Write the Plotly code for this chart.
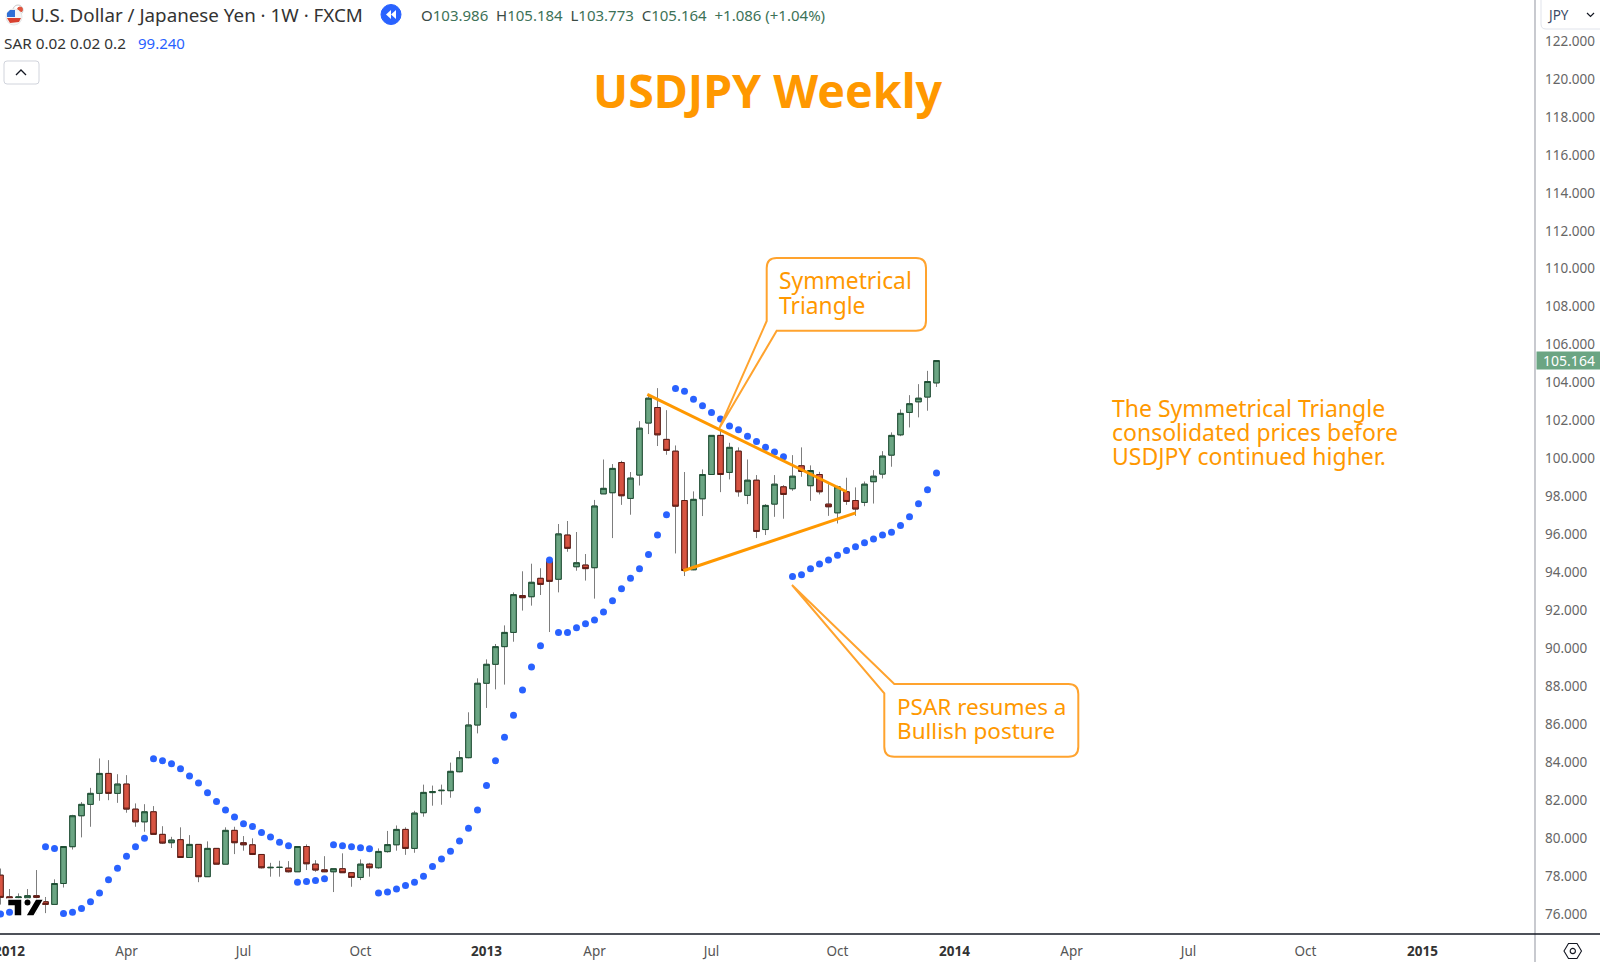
import plotly.graph_objects as go

# ---------- data (prices) ----------
WEEK = list(range(105))
OPEN = [78.05,76.91,76.86,76.86,76.97,76.65,76.51,77.61,79.55,81.18,81.78,82.36,83.41,82.36,82.85,81.53,80.86,81.39,80.20,79.76,
        79.92,78.98,79.67,77.97,79.46,78.63,80.41,79.76,79.65,79.14,78.44,78.46,78.42,78.23,79.56,78.63,78.33,78.23,78.39,78.18,
        77.93,78.63,78.44,79.29,79.65,80.46,79.46,81.34,82.40,82.50,82.50,83.50,84.24,85.96,88.16,89.16,90.09,90.84,92.78,92.72,
        93.69,94.60,93.64,95.97,94.30,94.39,94.25,98.14,98.20,99.79,97.90,99.13,101.87,102.69,101.01,100.39,97.79,94.14,97.88,99.16,
        101.22,99.27,100.39,98.06,98.86,96.26,97.60,98.51,98.41,99.62,98.57,99.16,97.60,97.14,98.25,97.79,97.69,98.78,99.18,100.18,
        101.25,102.43,102.99,103.24,103.986]
HIGH = [78.40,77.32,77.09,77.32,78.32,76.90,77.83,79.58,81.23,81.90,82.65,84.20,84.11,83.37,83.32,81.83,81.79,81.69,80.63,80.07,
        80.57,80.16,79.69,79.83,79.46,80.57,80.60,80.11,79.99,79.14,78.70,78.81,78.79,79.58,79.67,78.84,79.05,78.40,79.20,78.21,
        78.88,78.70,79.46,80.38,80.67,80.57,81.44,82.82,82.77,82.82,83.98,84.59,86.63,88.42,89.42,90.23,91.21,92.95,94.06,94.46,
        94.22,94.74,96.55,96.71,96.13,94.97,97.82,99.95,99.71,99.88,99.29,101.97,103.34,103.71,102.55,100.69,99.29,98.27,99.43,101.24,
        101.50,100.83,100.59,99.95,99.13,97.60,99.13,98.60,100.18,100.59,99.64,99.30,98.65,98.57,98.99,98.48,98.79,99.39,100.39,101.38,
        102.59,103.34,103.92,104.62,105.184]
LOW = [76.50,76.70,76.70,76.70,76.05,76.05,76.50,77.40,79.40,80.04,80.60,81.97,82.00,81.86,81.34,80.60,80.34,80.20,79.69,79.48,
       78.98,78.98,77.68,77.97,78.63,78.63,79.16,79.34,79.11,78.40,77.97,77.97,78.19,78.23,78.32,78.23,78.21,77.16,78.18,77.44,
       77.79,77.97,78.39,79.24,79.34,79.12,79.23,81.13,81.71,81.76,82.13,83.47,84.21,85.52,86.86,87.84,88.09,90.35,91.99,92.25,
       92.81,90.86,92.95,95.09,94.09,93.57,92.62,98.13,95.81,97.56,97.04,98.58,101.29,100.66,100.20,95.00,93.81,94.12,96.97,99.14,
       98.23,98.90,97.99,97.60,95.81,95.97,96.93,96.83,98.30,99.04,97.77,98.11,96.98,96.58,97.56,96.98,97.49,97.63,98.95,99.57,
       101.18,101.64,102.17,102.52,103.773]
CLOSE = [76.88,76.84,76.90,76.97,76.88,76.51,77.61,79.56,81.18,81.78,82.36,83.41,82.36,82.85,81.53,80.86,81.39,80.20,79.74,79.90,
         78.98,79.67,77.97,79.46,78.63,80.41,79.76,79.65,79.14,78.44,78.46,78.46,78.23,79.56,78.65,78.32,78.23,78.39,78.18,77.93,
         78.63,78.44,79.30,79.66,80.46,79.46,81.32,82.41,82.45,82.52,83.52,84.24,85.96,88.16,89.16,90.09,90.84,92.83,92.67,93.48,
         93.37,93.53,96.03,95.27,94.51,94.20,97.50,98.43,99.48,98.04,98.97,101.60,103.18,101.25,100.43,97.49,94.10,97.85,99.16,101.22,
         99.16,100.59,98.25,98.86,96.16,97.53,98.65,98.11,99.07,99.32,99.37,98.25,97.46,98.51,97.74,97.34,98.65,99.07,100.13,101.22,
         102.38,102.89,103.18,104.06,105.164]
SAR = [76.00,76.10,None,None,None,79.55,79.46,76.03,76.10,76.30,76.65,77.11,77.81,78.42,79.05,79.55,80.00,84.18,84.08,83.92,
       83.66,83.27,82.90,82.39,81.93,81.48,81.11,80.76,80.62,80.30,80.06,79.79,79.60,77.67,77.72,77.77,77.86,79.65,79.60,79.55,
       79.49,79.44,77.11,77.16,77.32,77.51,77.67,77.99,78.50,78.90,79.31,79.85,80.52,81.48,82.77,84.08,85.31,86.47,87.81,89.02,
       90.14,94.66,90.84,90.84,91.09,91.30,91.49,91.91,92.51,93.14,93.69,94.19,94.95,95.97,97.04,103.69,103.55,103.13,102.78,102.43,
       102.08,101.71,101.52,101.18,100.90,100.60,100.34,100.09,93.79,93.88,94.19,94.44,94.65,94.91,95.16,95.35,95.56,95.76,95.97,96.12,
       96.47,96.93,97.62,98.35,99.24]
TRI_UPPER_X = [71.87, 94.02]
TRI_UPPER_Y = [103.38, 98.25]
TRI_LOWER_X = [75.87, 95.02]
TRI_LOWER_Y = [94.09, 97.14]
Y_TICKS = list(range(76, 124, 2))
X_TICK_WEEKS = [1, 14, 27, 40, 54, 66, 79, 93, 106, 119, 132, 145, 158]
X_TICK_LABELS = ["2012", "Apr", "Jul", "Oct", "2013", "Apr", "Jul", "Oct", "2014", "Apr", "Jul", "Oct", "2015"]
LAST_PRICE = 105.164

# ---------- page geometry ----------
W, H = 1600, 962
PLOT_R, PLOT_B = 1535, 934
ORANGE = "#ff9800"
UP, DOWN = "#6ba583", "#d75442"
UP_EDGE, DOWN_EDGE = "#1d4f33", "#5b1a13"
FONT = "Noto Sans"

def px(x): return x / PLOT_R
def py(y): return 1 - y / PLOT_B
def pth(s):
    out = []
    toks = s.split()
    i = 0
    while i < len(toks):
        t = toks[i]
        if t in ("M", "L", "Q"):
            out.append(t); i += 1
            n = 2 if t == "Q" else 1
            pairs = []
            for _ in range(n):
                pairs.append(f"{px(float(toks[i])):.5f},{py(float(toks[i+1])):.5f}")
                i += 2
            out.append(" ".join(pairs))
        else:
            out.append(t); i += 1
    return " ".join(out)

fig = go.Figure()
fig.add_scatter(x=WEEK, y=SAR, mode="markers", name="SAR",
                marker=dict(color="#2962ff", size=7, line=dict(width=0)))
# wicks
fig.add_candlestick(x=WEEK, open=OPEN, high=HIGH, low=LOW, close=CLOSE, name="wick",
                    increasing=dict(line=dict(color="#7d7d7d", width=1), fillcolor="#7d7d7d"),
                    decreasing=dict(line=dict(color="#7d7d7d", width=1), fillcolor="#7d7d7d"),
                    whiskerwidth=0)
# bodies
fig.add_candlestick(x=WEEK, open=OPEN, close=CLOSE,
                    high=[max(o, c) for o, c in zip(OPEN, CLOSE)],
                    low=[min(o, c) for o, c in zip(OPEN, CLOSE)],
                    name="USDJPY",
                    increasing=dict(line=dict(color=UP_EDGE, width=1), fillcolor=UP),
                    decreasing=dict(line=dict(color=DOWN_EDGE, width=1), fillcolor=DOWN))
for xs, ys in ((TRI_UPPER_X, TRI_UPPER_Y), (TRI_LOWER_X, TRI_LOWER_Y)):
    fig.add_scatter(x=xs, y=ys, mode="lines", line=dict(color=ORANGE, width=3))

shapes = []
def path(s, color="rgba(0,0,0,0)", lw=1.0, line=None):
    shapes.append(dict(type="path", path=pth(s), xref="paper", yref="paper", fillcolor=color,
                       line=dict(color=line if line else "rgba(0,0,0,0)", width=lw), layer="above"))
def circle(cx, cy, r, color, line=None, lw=1):
    shapes.append(dict(type="circle", xref="paper", yref="paper", x0=px(cx-r), x1=px(cx+r), y0=py(cy-r), y1=py(cy+r),
                       fillcolor=color, line=dict(color=line if line else color, width=lw), layer="above"))

# frame lines
path("M 1535 0 L 1535 962", line="#a3a6af", lw=1.2)
path("M 0 934 L 1600 934", line="#131722", lw=1.3)

# callouts
path("M 766.7 321 L 719.3 428.3 L 776.7 330.7 L 916 330.7 Q 926 330.7 926 320.7 L 926 268 Q 926 258 916 258 "
     "L 776.7 258 Q 766.7 258 766.7 268 Z", line="#ffa32e", lw=2)
path("M 792 585 L 894.3 684 L 1068.3 684 Q 1078.3 684 1078.3 694 L 1078.3 746.7 Q 1078.3 756.7 1068.3 756.7 "
     "L 894.3 756.7 Q 884.3 756.7 884.3 746.7 L 884.3 693.3 Z", line="#ffa32e", lw=2)

# TradingView mark
path("M 7.5 899 L 22 899 L 22 916 L 14 916 L 14 906 L 7.5 906 Z", color="#000000", line="#ffffff", lw=1.5)
circle(27.5, 902.5, 3.6, "#000000", line="#ffffff", lw=1.2)
path("M 35.5 899 L 44 899 L 34 916 L 25.5 916 Z", color="#000000", line="#ffffff", lw=1.5)

# header icons
circle(18, 10, 5, "#ffffff", line="#c9c9c9")
circle(20, 9.5, 2.5, "#e0533d")
circle(14, 17, 8, "#f5f5f5", line="#e8e8e8")
path("M 7 18 L 21 18 L 19 22 L 10 23 Z", color="#d8402f")
path("M 7 17 L 7 13 L 10 10 L 15 10 L 15 17 Z", color="#2f6fd6")
circle(391, 14.5, 10, "#2962ff")
path("M 391 10 L 386 14.5 L 391 19 Z", color="#ffffff")
path("M 396 10 L 391 14.5 L 396 19 Z", color="#ffffff")
# collapse button
path("M 7 61 L 36 61 Q 39 61 39 64 L 39 81 Q 39 84 36 84 L 7 84 Q 4 84 4 81 L 4 64 Q 4 61 7 61 Z",
     line="#d1d4dc", lw=1)
path("M 16 75 L 21 70 L 26 75", line="#131722", lw=1.3)
# currency box
path("M 1600 29 L 1546 29 Q 1541 29 1541 24 L 1541 0", line="#e0e3eb", lw=1)
path("M 1587 13 L 1590.5 16.5 L 1594 13", line="#131722", lw=1.2)
# settings hexagon
path("M 1564 951 L 1568.5 943.5 L 1577 943.5 L 1581.5 951 L 1577 958.5 L 1568.5 958.5 Z", line="#131722", lw=1.1)
circle(1572.8, 951, 2.6, "rgba(0,0,0,0)", line="#131722", lw=1.1)

ann = []
def text(x, y, s, size, color, anchor="left", bold=False, family=FONT):
    ann.append(dict(x=px(x), y=py(y), xref="paper", yref="paper", text=f"<b>{s}</b>" if bold else s,
                    showarrow=False, xanchor=anchor, yanchor="middle", align="left",
                    font=dict(family=family, size=size, color=color)))

text(768, 90, "USDJPY Weekly", 46.5, ORANGE, anchor="center", bold=True)
text(777, 280.5, "Symmetrical", 22.8, ORANGE)
text(777, 305, "Triangle", 22.8, ORANGE)
text(895, 706, "PSAR resumes a", 22.5, ORANGE)
text(895, 730.5, "Bullish posture", 22.5, ORANGE)
text(1110, 408, "The Symmetrical Triangle", 23, ORANGE)
text(1110, 432, "consolidated prices before", 23, ORANGE)
text(1110, 456, "USDJPY continued higher.", 23, ORANGE)
text(29, 14.5, "U.S. Dollar / Japanese Yen · 1W · FXCM", 18.8, "#333333")
G = "#3d7257"
SP = "&nbsp;&nbsp;"
text(419, 14.5, f'O<span style="color:{G}">103.986</span>{SP}H<span style="color:{G}">105.184</span>{SP}'
                f'L<span style="color:{G}">103.773</span>{SP}C<span style="color:{G}">105.164</span>{SP}'
                f'<span style="color:{G}">+1.086 (+1.04%)</span>', 15, "#3a4a44")
text(2, 43, "SAR 0.02 0.02 0.2", 15.3, "#333333")
text(136, 43, "99.240", 15, "#2962ff")
text(1545, 14.5, "JPY", 13.5, "#3b4a66")
ann.append(dict(x=px(1536), xref="paper", y=LAST_PRICE, yref="y", text="105.164", showarrow=False,
                xanchor="left", yanchor="middle", width=64, height=17, bgcolor=UP, borderpad=0, align="center",
                font=dict(family=FONT, size=14, color="#ffffff")))

tick_text = [f'<b>{t}</b>' if t.isdigit() else f'<span style="color:#555555">{t}</span>' for t in X_TICK_LABELS]

fig.update_layout(
    width=W, height=H, showlegend=False, paper_bgcolor="#ffffff", plot_bgcolor="#ffffff",
    margin=dict(l=0, r=W - PLOT_R, t=0, b=H - PLOT_B, autoexpand=False),
    boxmode="overlay", boxgap=0.12,
    shapes=shapes, annotations=ann,
    xaxis=dict(type="linear", range=[-0.056, 170.5], showgrid=False, zeroline=False, rangeslider=dict(visible=False),
               tickmode="array", tickvals=X_TICK_WEEKS, ticktext=tick_text, ticks="", showline=False,
               ticklabeloverflow="allow", ticklabelstandoff=7,
               tickfont=dict(family=FONT, size=13.5, color="#333333")),
    yaxis=dict(side="right", range=[74.95, 124.16], showgrid=False, zeroline=False, tickmode="array",
               tickvals=Y_TICKS, tickformat=".3f", ticks="", showline=False, ticklabelstandoff=9,
               tickfont=dict(family=FONT, size=13.5, color="#666666")),
)
fig.write_html("out.html", config={"displayModeBar": False}, post_script="document.body.style.margin='0';")
